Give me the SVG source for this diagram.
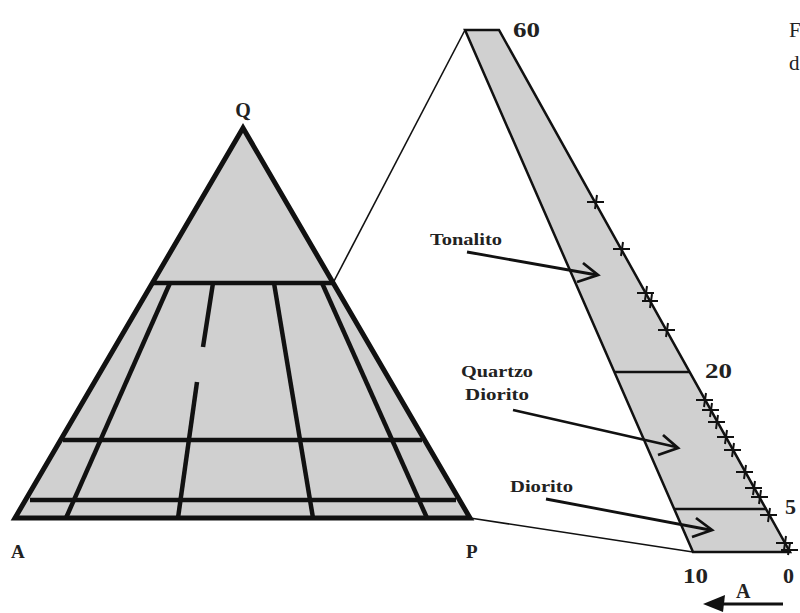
<svg xmlns="http://www.w3.org/2000/svg" width="800" height="613" viewBox="0 0 800 613">
<style>
.lbl{font-family:"Liberation Serif","DejaVu Serif",serif;font-weight:bold;fill:#222}
.num{font-family:"Liberation Serif","DejaVu Serif",serif;font-size:22px;font-weight:bold;fill:#222}
.cap{font-family:"Liberation Serif","DejaVu Serif",serif;font-size:21px;fill:#222}
.thick{fill:none;stroke:#111;stroke-width:4.5;stroke-linecap:butt}
.thin{fill:none;stroke:#111;stroke-width:2.5}
.conn{fill:none;stroke:#111;stroke-width:1.6}
.arr{fill:none;stroke:#111;stroke-width:2.8;stroke-linejoin:miter}
.cross{fill:none;stroke:#111;stroke-width:2}
</style>
<rect width="800" height="613" fill="#fff"/>
<g id="ternary">
<polygon points="243,128 15,518 470,518" fill="#d0d0d0" stroke="#111" stroke-width="5" stroke-linejoin="miter"/>
<line class="thick" x1="152" y1="283" x2="334" y2="283"/>
<line class="thick" x1="63" y1="440" x2="422" y2="440"/>
<line class="thick" x1="30" y1="500" x2="456" y2="500"/>
<line class="thick" x1="170" y1="283" x2="66" y2="518"/>
<line class="thick" x1="213" y1="283" x2="203" y2="347"/>
<line class="thick" x1="197" y1="382" x2="178" y2="518"/>
<line class="thick" x1="274" y1="283" x2="313" y2="518"/>
<line class="thick" x1="322" y1="283" x2="427" y2="518"/>
<text class="lbl" x="243" y="117" font-size="20" text-anchor="middle">Q</text>
<text class="lbl" x="11" y="558" font-size="19">A</text>
<text class="lbl" x="466" y="558" font-size="19">P</text>
</g>
<g id="connectors">
<line class="conn" x1="333" y1="283" x2="465" y2="30"/>
<line class="conn" x1="470" y1="518" x2="693" y2="552"/>
</g>
<g id="detail">
<polygon points="465,30 499,30 790,552 693,552" fill="#d0d0d0" stroke="#111" stroke-width="2.5" stroke-linejoin="miter"/>
<line class="thin" x1="615" y1="372" x2="690" y2="372"/>
<line class="thin" x1="675" y1="509" x2="767" y2="509"/>
<text class="num" x="513" y="37" textLength="27" lengthAdjust="spacingAndGlyphs">60</text>
<text class="num" x="705" y="378" textLength="27" lengthAdjust="spacingAndGlyphs">20</text>
<text class="num" x="785" y="514">5</text>
<text class="num" x="683" y="583" textLength="25" lengthAdjust="spacingAndGlyphs">10</text>
<text class="num" x="783" y="583">0</text>
</g>
<g id="crosses">
<path class="cross" d="M587,202h17M597,195l-2,14 M613,249h17M623,242l-2,14 M637,293h17M647,286l-2,14 M642,301h16M652,294l-2,14 M658,330h17M668,323l-2,14 M696,400h17M706,393l-2,14 M702,410h17M712,403l-2,14 M708,422h17M718,415l-2,14 M717,437h17M727,430l-2,14 M724,450h17M734,443l-2,14 M736,472h17M746,465l-2,14 M745,488h17M755,481l-2,14 M751,497h17M761,490l-2,14 M760,515h17M770,508l-2,14 M776,543h17M786,536l-2,14 M781,550h17M790,543l-2,12"/>
</g>
<g id="label-tonalito">
<text class="lbl" x="430" y="245" font-size="17" textLength="72" lengthAdjust="spacingAndGlyphs">Tonalito</text>
<line class="arr" x1="467" y1="252" x2="597" y2="275"/>
<polyline class="arr" points="583,263 598,275 577,282"/>
</g>
<g id="label-quartzo-diorito">
<text class="lbl" x="461" y="377" font-size="17" textLength="72" lengthAdjust="spacingAndGlyphs">Quartzo</text>
<text class="lbl" x="465" y="400" font-size="17" textLength="64" lengthAdjust="spacingAndGlyphs">Diorito</text>
<line class="arr" x1="513" y1="410" x2="676" y2="447"/>
<polyline class="arr" points="663,435 678,448 658,455"/>
</g>
<g id="label-diorito">
<text class="lbl" x="510" y="492" font-size="17" textLength="63" lengthAdjust="spacingAndGlyphs">Diorito</text>
<line class="arr" x1="546" y1="499" x2="710" y2="530"/>
<polyline class="arr" points="696,518 712,530 692,537"/>
</g>
<g id="axis-arrow">
<line x1="783" y1="604" x2="720" y2="604" stroke="#111" stroke-width="3"/>
<polygon points="703,604 725,595 723,612" fill="#111"/>
<text class="lbl" x="736" y="598" font-size="20">A</text>
</g>
<g id="caption">
<text class="cap" x="789" y="37">F</text>
<text class="cap" x="789" y="70">d</text>
</g>
</svg>
